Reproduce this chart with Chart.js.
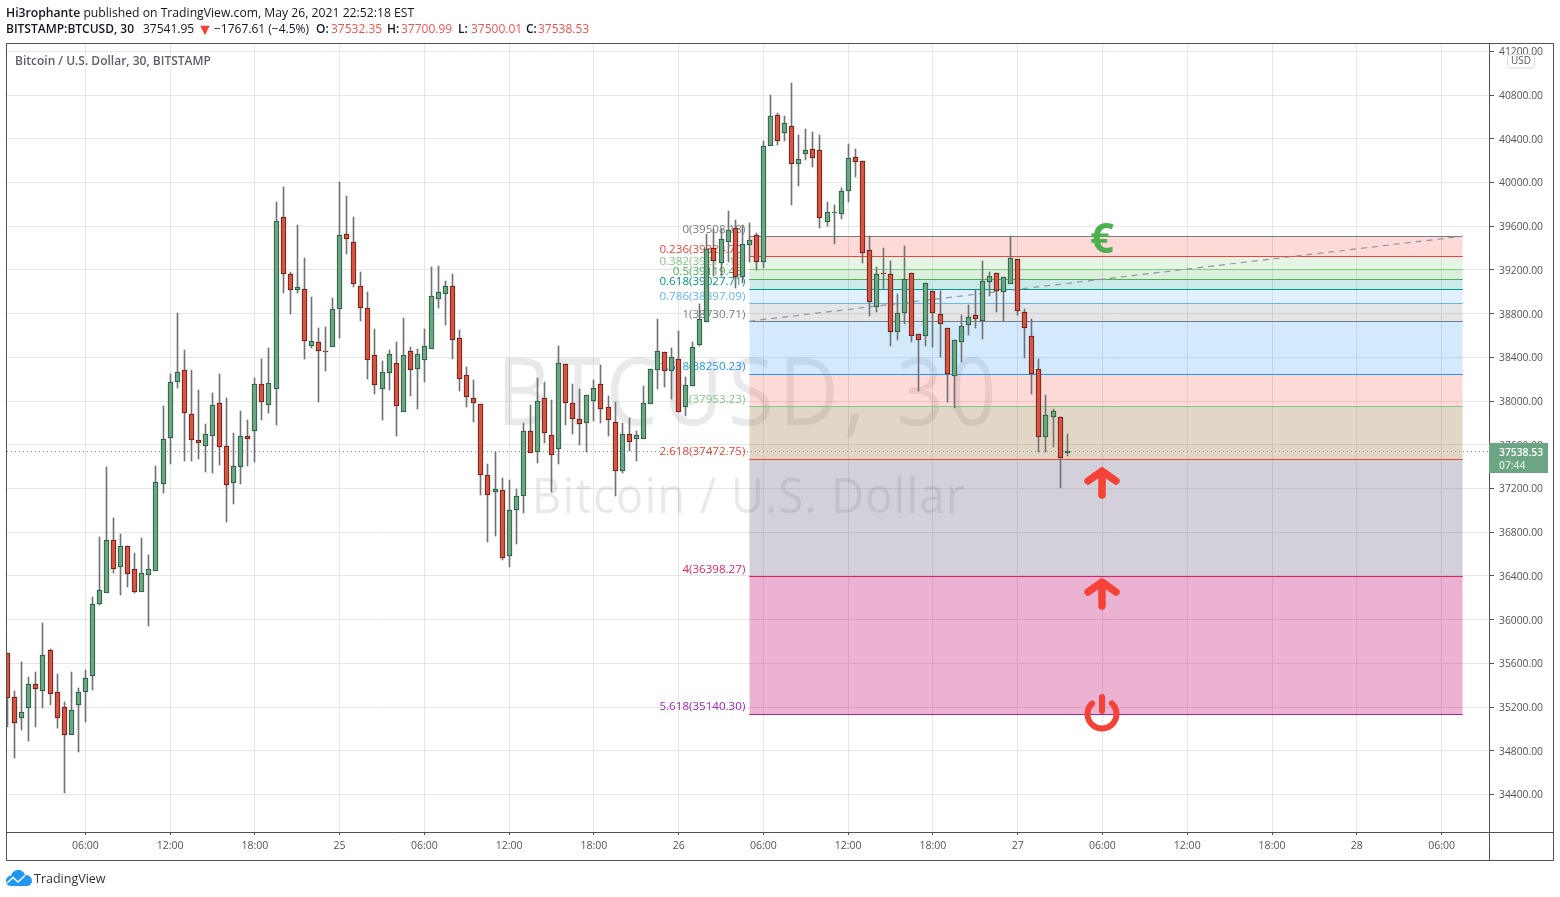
<!DOCTYPE html>
<html><head><meta charset="utf-8"><title>BTCUSD 30</title>
<style>
html,body{margin:0;padding:0;background:#fff;overflow:hidden}
#wrap{position:relative;width:1560px;height:897px;font-family:"Open Sans",sans-serif;color:#131722}
canvas{position:absolute;left:0;top:0}
.t{position:absolute;white-space:nowrap;font-size:12px;line-height:16px}
.b{font-weight:600}.r{color:#ef5350}
</style>
<script src="https://cdn.jsdelivr.net/npm/chart.js@4"></script>
</head><body><div id="wrap">
<canvas id="c" width="1560" height="897"></canvas>
<div class="t" style="left:6px;top:5px;font-size:12.2px"><span class="b">Hi3rophante</span> published on TradingView.com, May 26, 2021 22:52:18 EST</div>
<div class="t b" style="left:6px;top:21px">BITSTAMP:BTCUSD, 30</div>
<div class="t" style="left:143px;top:21px">37541.95</div>
<div class="t r" style="left:197px;top:21px;font-size:16px;color:#f44336">▼</div>
<div class="t" style="left:214px;top:21px">−1767.61 (−4.5%)</div>
<div class="t b" style="left:316px;top:21px">O:</div><div class="t r" style="left:331px;top:21px">37532.35</div>
<div class="t b" style="left:387px;top:21px">H:</div><div class="t r" style="left:401px;top:21px">37700.99</div>
<div class="t b" style="left:458px;top:21px">L:</div><div class="t r" style="left:471px;top:21px">37500.01</div>
<div class="t b" style="left:526px;top:21px">C:</div><div class="t r" style="left:538px;top:21px">37538.53</div>
<div class="t b" style="left:15px;top:53px;color:#5d606b">Bitcoin / U.S. Dollar, 30, BITSTAMP</div>
<svg style="position:absolute;left:6px;top:870px" width="26" height="17" viewBox="0 0 26 17">
<path d="M5 16 C1 16 0 13 0 11 C0 8 2 6 5 6 C6 2 9 0 12 0 C16 0 18 2 19 5 C23 5 26 7 26 11 C26 14 23 16 21 16 Z" fill="#2196f3"/>
<path d="M1 13 L7 7.5 L12 12 L19 5.5" fill="none" stroke="#fff" stroke-width="1.6"/></svg>
<div class="t" style="left:34px;top:871px;font-size:12.5px;color:#30343f">TradingView</div>
</div>
<script>
const high=[35695,35347,35613,35475,35521,35970,35732,35503,35247,35521,
35375,35540,36207,36756,37397,36930,36784,36674,36610,36747,
36592,37406,37955,38248,38806,38468,38285,38102,37790,38074,
38248,38028,37708,37909,37827,38211,38385,38486,39822,39959,
39181,39611,39309,38952,38669,38678,38943,40005,39877,39684,
39181,38998,38660,38367,38468,38541,38760,38495,38477,38660,
39227,39236,39099,39163,38651,38312,38193,37973,37424,37534,
37296,37278,37196,37800,37964,38211,38175,38010,38504,38339,
38156,38111,38056,38193,38330,38047,37992,37800,37845,37726,
38138,38294,38751,38449,38486,38641,38220,38541,38888,39529,
39575,39575,39739,39657,39611,39630,39538,40380,40801,40636,
40609,40911,40435,40490,40462,40435,39822,39794,39950,40352,
40307,40197,39511,39227,39401,39282,38980,39419,39172,38614,
39081,39007,39007,38669,38559,38788,38879,39017,39282,39181,
39172,39136,39511,39300,38843,38751,38385,38056,37928,37854,37700.99];
const open=[35695,35292,35109,35201,35411,35357,35722,35338,35201,34954,
35228,35347,35494,36153,36253,36729,36491,36674,36464,36263,
36418,36455,37250,37671,38184,38285,37882,37644,37598,37690,
37983,37589,37260,37406,37681,37735,38156,37973,38120,39684,
39163,39026,39026,38513,38541,38458,38504,38852,39529,39456,
39053,38852,38422,38120,38266,38349,37909,38458,38303,38385,
38486,38943,38989,39053,38577,38239,38028,37973,37324,37177,
37187,36592,37013,37141,37726,37543,38028,37690,37571,38339,
37983,37836,37809,38010,38156,37946,37809,37370,37699,37662,
37662,37983,38294,38449,38285,38385,37955,38147,38522,38733,
39401,39273,39465,39584,39145,39437,39520,39282,40343,40618,
40462,40517,40179,40270,40307,40298,39648,39721,39721,39931,
40233,40197,39383,38870,39172,39163,38641,38815,39172,38614,
38605,39007,38797,38669,38239,38550,38705,38788,38742,39099,
39172,39007,39081,39300,38815,38596,38294,37681,37864,37854,37532.35];
const close=[35292,35064,35155,35411,35375,35677,35329,35109,34954,35174,
35338,35466,36143,36272,36729,36473,36674,36427,36263,36427,
36464,37260,37653,38175,38266,37900,37653,37626,37699,37964,
37589,37241,37406,37681,37662,38156,38001,38165,39648,39172,
39026,39044,38559,38550,38468,38449,38843,39520,39492,39081,
38861,38385,38156,38266,38431,37964,38422,38294,38431,38504,
38961,38998,39053,38568,38211,38047,37992,37333,37150,37196,
36574,37004,37132,37726,37534,38001,37717,37516,38349,37992,
37845,37800,38056,38120,37937,37836,37370,37699,37635,37690,
37983,38294,38458,38285,38403,37909,38147,38495,38751,39392,
39291,39483,39566,39145,39437,39474,39282,40334,40609,40389,
40545,40179,40215,40298,40233,39684,39730,39730,39922,40224,
40197,39364,38916,39163,39163,38641,38806,39117,38605,38568,
39081,38815,38715,38257,38559,38687,38769,38760,39099,39145,
39017,39136,39309,38834,38678,38257,37681,37873,37909,37488,37538.53];
const low=[35018,34734,34990,34890,35018,35192,35219,35009,34414,34954,
34789,35064,35357,36134,36253,36427,36226,36299,36244,36263,
35942,36455,37159,37424,38120,37452,37452,37470,37351,37342,
37415,36894,37058,37241,37406,37443,37827,37891,37781,38989,
38797,38989,38385,38486,37992,38275,38504,38577,39346,39044,
38733,38202,38065,37827,38102,37681,37909,38047,37928,38175,
38486,38852,38696,38385,38092,37946,37809,37141,36711,36766,
36546,36482,36692,36976,37534,37434,37617,37168,37424,37781,
37699,37598,37534,37818,37800,37681,37132,37342,37543,37452,
37662,37983,38111,38129,38019,37900,37864,38138,38504,38724,
39145,39145,39273,39035,39081,39273,39200,39218,40343,40343,
40380,39794,39968,40206,40142,39584,39602,39437,39666,39822,
40050,39264,38779,38815,39026,38504,38559,38705,38541,38092,
38504,38495,38403,37992,37937,38358,38605,38669,38568,38962,
38815,38733,39081,38788,38394,38065,37534,37534,37580,37205,37500.01];

const priceTicks=[34400,34800,35200,35600,36000,36400,36800,37200,37600,38000,38400,38800,39200,39600,40000,40400,40800,41200];
const timeTickSlots=[11,23,35,47,59,71,83,95,107,119,131,143,155,167,179,191,203];
const timeTickLabels=['06:00','12:00','18:00','25','06:00','12:00','18:00','26','06:00','12:00','18:00','27','06:00','12:00','18:00','28','06:00'];

const fibRatios=['0','0.236','0.382','0.5','0.618','0.786','1','1.618','2','2.618','4','5.618'];
const fibPrices=[39508.18,39324.70,39211.19,39119.45,39027.71,38897.09,38730.71,38250.23,37953.23,37472.75,36398.27,35140.30];
const fibTexts=['39508.18','39324.70','39211.19','39119.45','39027.71','38897.09','38730.71','38250.23','37953.23','37472.75','36398.27','35140.30'];
const fibColors=['#787b86','#f44336','#81c784','#4caf50','#009688','#64b5f6','#787b86','#2196f3','#81c784','#f44336','#e91e63','#9c27b0'];
const zoneFills=[null,'rgba(244,67,54,.2)','rgba(129,199,132,.2)','rgba(76,175,80,.2)','rgba(0,150,136,.2)','rgba(100,181,246,.2)','rgba(120,123,134,.2)','rgba(33,150,243,.2)','rgba(244,67,54,.2)','rgba(158,118,65,.3)','rgba(108,98,128,.3)','rgba(188,0,105,.3)'];
const zoneSlots=[105,206];
const lastPrice=37538.53;
const iconSlot=155;
const euroPrice=39466, arrowPrices=[37251,36235], powerPrice=35137;
const slotMin=-0.0878, slotMax=209.72;

const UI='"Open Sans",sans-serif';
const isUp=i=>close[i]>=open[i];
const zoneSets=fibPrices.map((p,k)=>({type:'line',order:6,kind:'level',
  data:zoneSlots.map(x=>({x,y:p})),borderWidth:0,borderColor:'transparent',pointRadius:0,
  fill:k===0?false:{target:k-1,above:zoneFills[k],below:zoneFills[k]}}));
const levelSets=fibPrices.map((p,k)=>({type:'line',order:5,kind:'level',
  data:zoneSlots.map(x=>({x,y:p})),borderColor:fibColors[k],borderWidth:1,pointRadius:0,fill:false}));
const wickSet={type:'bar',order:2,grouped:false,barThickness:1,
  data:high.map((h,i)=>({x:i,y:[low[i],h]})),backgroundColor:'#737375',borderWidth:0};
const bodySet={type:'bar',order:1,grouped:false,barThickness:5,borderSkipped:false,borderWidth:1,
  data:open.map((o,i)=>({x:i,y:[Math.min(o,close[i]),Math.max(o,close[i])]})),
  backgroundColor:open.map((o,i)=>isUp(i)?'#6ba583':'#d75442'),
  borderColor:open.map((o,i)=>isUp(i)?'#225437':'#5b1a13')};
const trendSet={type:'line',order:4,data:[{x:zoneSlots[0],y:fibPrices[6]},{x:zoneSlots[1],y:fibPrices[0]}],
  borderColor:'#93959e',borderWidth:1.2,borderDash:[6,5],pointRadius:0,fill:false};
const lastSet={type:'line',order:3,kind:'last',data:[{x:slotMin,y:lastPrice},{x:slotMax,y:lastPrice}],
  borderColor:'#6ba583',borderWidth:1,borderDash:[1,3],pointRadius:0,fill:false};

const snapPlugin={id:'snap',afterDatasetsUpdate(chart){
  chart.data.datasets.forEach((ds,i)=>{
    const els=chart.getDatasetMeta(i).data;
    if(ds.type==='bar'){els.forEach(e=>{
      e.x=Math.floor(e.x+.01)+.5;
      let a=Math.round(e.y),b=Math.round(e.base);
      if(ds===bodySet){
        if(a===b){a-=1;b+=1;}
        else if(b-a>=2)b+=1;
      }else if(a===b)b=a+1;
      e.y=a;e.base=b;e.height=b-a;});}
    else if(ds.kind==='level'){els.forEach(e=>{e.y=Math.round(e.y)+.5;});}
    else if(ds.kind==='last'){els.forEach(e=>{e.y=Math.floor(e.y)+.5;});}
  });
}};
function stretched(c,text,cx,cy,font,sx,spacing){
  c.save();c.translate(cx,cy);c.scale(sx,1);c.font=font;c.letterSpacing=spacing+'px';
  c.fillText(text,0,0);c.restore();
}
const underPlugin={id:'under',beforeDatasetsDraw(chart){
  const c=chart.ctx,{x,y}=chart.scales,a=chart.chartArea;
  c.save();c.beginPath();c.rect(a.left,a.top,a.width,a.height);c.clip();
  c.textAlign='center';c.textBaseline='middle';c.fillStyle='rgba(40,44,54,.1)';
  stretched(c,'BTCUSD, 30',749,398,'94px '+UI,0.88,5.7);
  stretched(c,'Bitcoin / U.S. Dollar',749,499,'50px '+UI,0.9,1.65);
  c.textAlign='right';c.textBaseline='bottom';c.font='11.6px '+UI;
  fibRatios.forEach((r,k)=>{c.fillStyle=fibColors[k];
    c.fillText(r+'('+fibTexts[k]+')',x.getPixelForValue(zoneSlots[0])-4,y.getPixelForValue(fibPrices[k])-1);});
  c.restore();
}};
const overPlugin={id:'over',afterDraw(chart){
  const c=chart.ctx,{x,y}=chart.scales,a=chart.chartArea;
  const cx=Math.round(x.getPixelForValue(iconSlot));
  c.save();
  c.strokeStyle='#50535e';c.lineWidth=1;
  c.strokeRect(6.5,43.5,1547,817);
  c.beginPath();c.moveTo(a.right+.5,43.5);c.lineTo(a.right+.5,860.5);c.moveTo(6.5,a.bottom+.5);c.lineTo(1553.5,a.bottom+.5);c.stroke();
  c.fillStyle='#4caf50';c.textAlign='center';c.textBaseline='middle';c.font='bold 42px '+UI;
  c.fillText('€',cx,y.getPixelForValue(euroPrice));
  c.strokeStyle='#f44336';c.lineCap='round';c.lineJoin='round';c.lineWidth=7.5;
  arrowPrices.forEach(p=>{const m=y.getPixelForValue(p);c.beginPath();
    c.moveTo(cx-14,m-2);c.lineTo(cx,m-12);c.lineTo(cx+14,m-2);c.moveTo(cx,m-11);c.lineTo(cx,m+12);c.stroke();});
  const m=y.getPixelForValue(powerPrice);c.lineWidth=6;
  c.beginPath();c.arc(cx,m,14.5,-Math.PI/2+0.75,-Math.PI/2-0.75);c.stroke();
  c.beginPath();c.moveTo(cx,m-17);c.lineTo(cx,m-3);c.stroke();
  const ty=Math.round(y.getPixelForValue(lastPrice));
  c.fillStyle='#6ba583';c.fillRect(a.right,ty-9,59,30);
  c.textAlign='left';c.fillStyle='#fff';c.font='600 10.3px '+UI;
  c.fillText('37538.53',1499,ty+1);
  c.fillStyle='rgba(255,255,255,.75)';c.fillText('07:44',1499,ty+14);
  c.fillStyle='#fff';c.strokeStyle='#d6d8e0';c.lineWidth=1;c.beginPath();c.roundRect(1507.5,54.5,27,13.5,3);c.fill();c.stroke();
  c.fillStyle='#50535e';c.textAlign='center';c.font='10px '+UI;c.fillText('USD',1521,61.5);
  c.restore();
}};

new Chart(document.getElementById('c'),{
  data:{datasets:[...zoneSets,...levelSets,trendSet,lastSet,wickSet,bodySet]},
  plugins:[snapPlugin,underPlugin,overPlugin],
  options:{responsive:false,animation:false,events:[],
    layout:{padding:{left:7,top:44,right:7,bottom:37}},
    plugins:{legend:{display:false},tooltip:{enabled:false},filler:{propagate:false}},
    scales:{
      x:{type:'linear',offset:false,min:slotMin,max:slotMax,
        afterBuildTicks(s){s.ticks=timeTickSlots.map(v=>({value:v}));},
        afterFit(s){s.height=28;},
        grid:{offset:false,color:'#e6e6e6',lineWidth:1,tickColor:'#50535e',tickLength:3,drawTicks:true},
        border:{display:false},
        ticks:{autoSkip:false,maxRotation:0,padding:5,color:'#50535e',font:{family:UI,size:10.5},
          callback:v=>timeTickLabels[timeTickSlots.indexOf(v)]}},
      y:{type:'linear',position:'right',min:34057.1,max:41267.3,
        afterBuildTicks(s){s.ticks=priceTicks.map(v=>({value:v}));},
        afterFit(s){s.width=64;},
        grid:{color:'#e6e6e6',lineWidth:1,tickColor:'#50535e',tickLength:5,drawTicks:true},
        border:{display:false},
        ticks:{autoSkip:false,padding:5,labelOffset:1,color:'#50535e',font:{family:UI,size:10.3},
          callback:v=>v.toFixed(2)}}
    }}
});
</script></body></html>
